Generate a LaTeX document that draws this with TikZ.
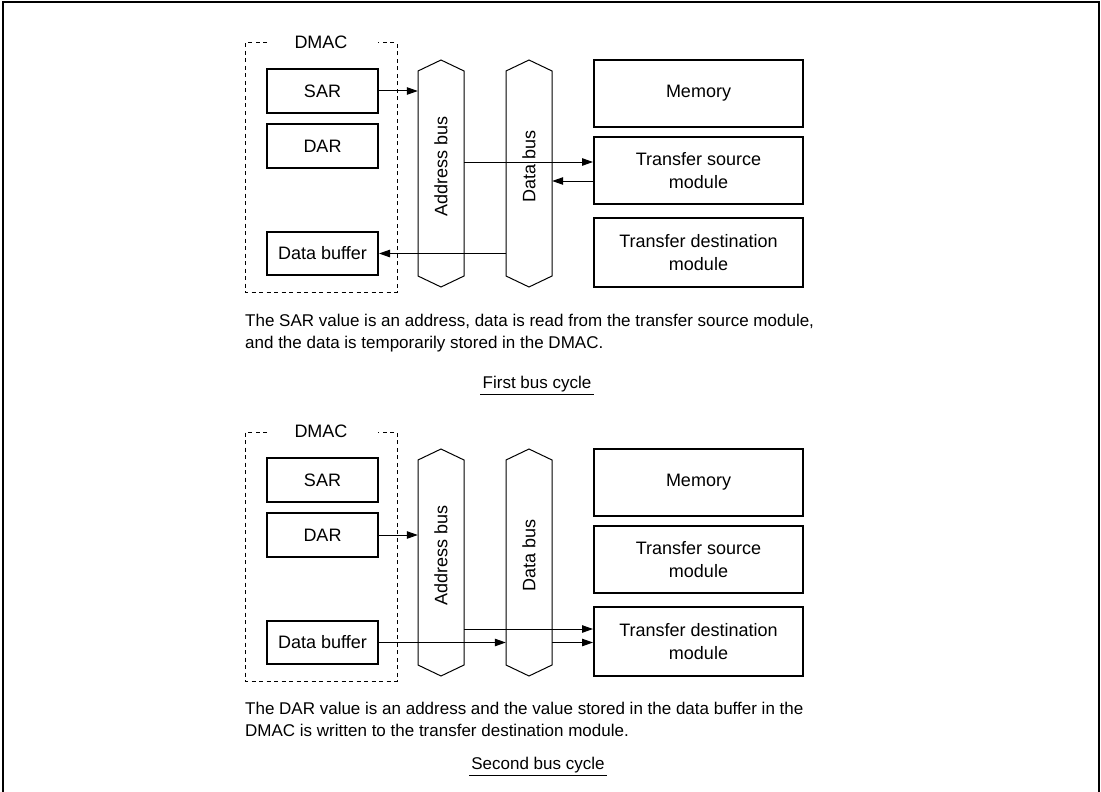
\documentclass[tikz,border=0pt]{standalone}
\usepackage{fontspec}
\setmainfont{Liberation Sans}
\usetikzlibrary{arrows.meta}
\tikzset{
  box/.style={draw, line width=2pt, inner sep=0pt, align=center,
    font=\fontsize{18pt}{23pt}\selectfont},
  busshape/.style={draw, line width=1pt},
  busarea/.style={inner sep=0pt, minimum width=46pt, minimum height=227pt},
  conn/.style={line width=1pt, -{Triangle[length=11pt,width=7.5pt]}},
  dmacline/.style={line width=1pt, dash pattern=on 4pt off 3.5pt},
  bodytext/.style={anchor=base west, inner sep=0pt, font=\fontsize{17pt}{20pt}\selectfont},
  captext/.style={anchor=base, inner sep=0pt, font=\fontsize{17pt}{20pt}\selectfont},
  buslabel/.style={rotate=90, inner sep=0pt, font=\fontsize{18pt}{21pt}\selectfont},
  dmaclabel/.style={inner sep=0pt, font=\fontsize{18pt}{21pt}\selectfont},
}
\newcommand\buspanel[1]{%
  \draw[dmacline] (267,43) -- (245,43) -- (245,292) -- (397,292) -- (397,43) -- (378,43);
  \node[dmaclabel] (dmac#1) at (321,42) {DMAC};
  \node[box, minimum width=111pt, minimum height=44pt] (sar#1) at (322.5,91) {SAR};
  \node[box, minimum width=111pt, minimum height=44pt] (dar#1) at (322.5,146) {DAR};
  \node[box, minimum width=111pt, minimum height=43pt] (buf#1) at (322.5,253.5) {Data buffer};
  \draw[busshape] (441,60) -- (464,71) -- (464,276) -- (441,287) -- (418,276) -- (418,71) -- cycle;
  \draw[busshape] (529,60) -- (552,71) -- (552,276) -- (529,287) -- (506,276) -- (506,71) -- cycle;
  \node[busarea] (ab#1) at (441,173.5) {};
  \node[busarea] (db#1) at (529,173.5) {};
  \node[buslabel] (abl#1) at (441,166) {Address bus};
  \node[buslabel] (dbl#1) at (529,166) {Data bus};
  \node[box, minimum width=209pt, minimum height=67pt] (mem#1) at (698.5,93.5) {Memory};
  \node[box, minimum width=209pt, minimum height=67pt] (src#1) at (698.5,170.5) {Transfer source\\module};
  \node[box, minimum width=209pt, minimum height=69pt] (dst#1) at (698.5,252.5) {Transfer destination\\module};
}
\begin{document}
\begin{tikzpicture}[x=1pt,y=-1pt]
  \useasboundingbox (0,0) rectangle (1101,792);
  \draw[line width=2pt] (2.5,792) -- (2.5,2.5) -- (1098.5,2.5) -- (1098.5,792);
  % first bus cycle
  \buspanel{a}
  \draw[conn] (sara.east) -- (sara.east -| aba.west);
  \draw[conn] ([yshift=8.5pt]srca.west -| aba.east) -- ([yshift=8.5pt]srca.west);
  \draw[conn] ([yshift=-10.5pt]srca.west) -- ([yshift=-10.5pt]srca.west -| dba.east);
  \draw[conn] (bufa.east -| dba.west) -- (bufa.east);
  \node[bodytext] (t1) at (245,326) {The SAR value is an address, data is read from the transfer source module,};
  \node[bodytext] (t2) at (245,348) {and the data is temporarily stored in the DMAC.};
  \node[captext] (c1) at (537,388) {First bus cycle};
  \draw[line width=1pt] (480,394) -- (594,394);
  % second bus cycle
  \begin{scope}[yshift=-389pt]
    \buspanel{b}
    \draw[conn] (darb.east) -- (darb.east -| abb.west);
    \draw[conn] ([yshift=12.5pt]dstb.west -| abb.east) -- ([yshift=12.5pt]dstb.west);
    \draw[conn] (bufb.east) -- (bufb.east -| dbb.west);
    \draw[conn] (bufb.east -| dbb.east) -- (bufb.east -| dstb.west);
  \end{scope}
  \node[bodytext] (t3) at (245,714) {The DAR value is an address and the value stored in the data buffer in the};
  \node[bodytext] (t4) at (245,736) {DMAC is written to the transfer destination module.};
  \node[captext] (c2) at (538,769) {Second bus cycle};
  \draw[line width=1pt] (469,775) -- (607,775);
\end{tikzpicture}
\end{document}
